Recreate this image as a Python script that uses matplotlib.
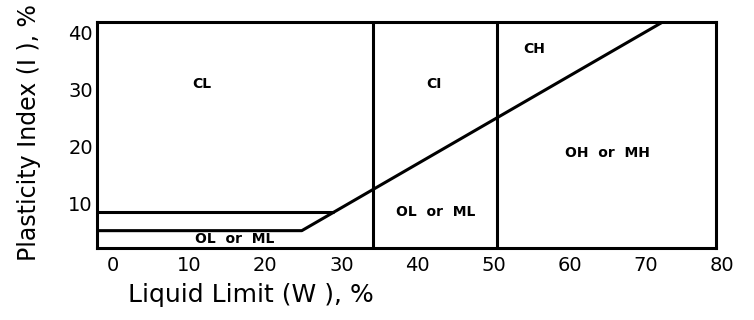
import matplotlib
matplotlib.use('Agg')
import matplotlib.pyplot as plt
import matplotlib.transforms as mtransforms

# tick values
x_ticks = [0, 10, 20, 30, 40, 50, 60, 70]
x_extra_tick = 80
y_ticks = [10, 20, 30, 40]

# liquid limit boundaries (vertical lines)
ll_bounds = [34.2, 50.5]

# upper horizontal line (PI ~ 8.6) up to the A-line
upper_x = [-2.1, 29.0]
upper_y = [8.6, 8.6]

# lower horizontal line + A-line
aline_x = [-2.1, 24.8, 72.2]
aline_y = [5.3, 5.3, 41.75]

# zone labels
zone_names = ['CL', 'CI', 'CH', 'OH  or  MH', 'OL  or  ML', 'OL  or  ML']
zone_x = [11.7, 42.2, 55.3, 64.9, 42.4, 16.0]
zone_y = [30.9, 30.9, 37.0, 18.8, 8.6, 3.8]

fig = plt.figure(figsize=(7.54, 3.2), dpi=100)
ax = fig.add_axes([97 / 754, 72 / 320, 619 / 754, 226 / 320])

lw = 2.2
for xb in ll_bounds:
    ax.axvline(xb, color='black', lw=lw)
ax.plot(upper_x, upper_y, color='black', lw=lw, solid_capstyle='butt')
ax.plot(aline_x, aline_y, color='black', lw=lw, solid_capstyle='butt')

for name, zx, zy in zip(zone_names, zone_x, zone_y):
    ax.text(zx, zy, name, ha='center', va='center', fontsize=10,
            fontweight='bold', family='DejaVu Sans')

ax.set_xlim(-2.1, 79.2)
ax.set_ylim(2.27, 41.75)
ax.set_xticks(x_ticks)
ax.set_yticks(y_ticks)
ax.tick_params(length=0, labelsize=14)
ax.tick_params(axis='x', pad=6)
ax.tick_params(axis='y', pad=3)

# last x tick sits just past the frame
off = mtransforms.ScaledTranslation(0, -6 / 72, fig.dpi_scale_trans)
ax.text(x_extra_tick, 0, str(x_extra_tick), transform=ax.get_xaxis_transform() + off,
        ha='center', va='top', fontsize=14, clip_on=False)

for sp in ax.spines.values():
    sp.set_linewidth(lw)

ax.set_xlabel('Liquid Limit (W ), %', fontsize=18)
ax.set_ylabel('Plasticity Index (I ), %', fontsize=17)
ax.xaxis.set_label_coords(0.249, -0.155)
ax.yaxis.set_label_coords(-0.09, 0.51)

fig.savefig('out.png', dpi=100)
